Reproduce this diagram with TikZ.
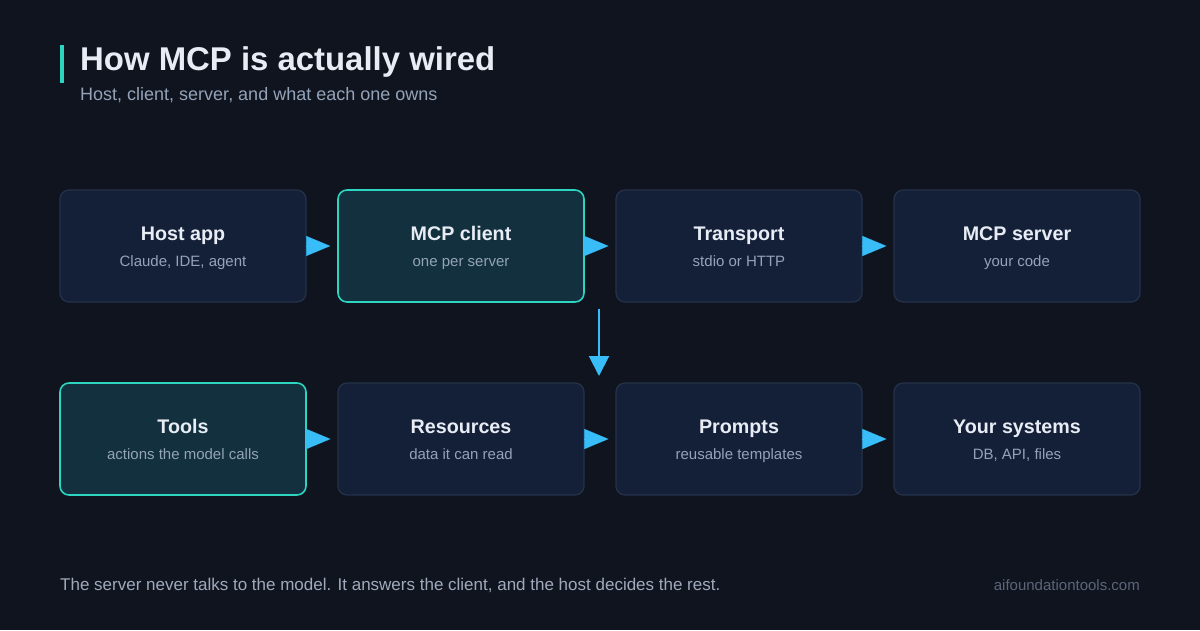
\documentclass[tikz,border=0pt]{standalone}
\usepackage{fontspec}
\setmainfont{Liberation Sans}
\usetikzlibrary{arrows.meta}
\definecolor{bg}{HTML}{0F141F}
\definecolor{boxf}{HTML}{141F38}
\definecolor{boxd}{HTML}{26324A}
\definecolor{hif}{HTML}{12303D}
\definecolor{hid}{HTML}{2DD4BF}
\definecolor{arr}{HTML}{38BDF8}
\definecolor{ttl}{HTML}{E8EDF5}
\definecolor{sub}{HTML}{94A3B8}
\definecolor{foot}{HTML}{A0AABB}
\definecolor{brand}{HTML}{5B6678}
\begin{document}
\begin{tikzpicture}[x=1pt,y=-1pt,
  box/.style={draw=boxd,fill=boxf,line width=1.2pt,rounded corners=9pt,minimum width=246pt,minimum height=112pt,inner sep=0pt},
  hi/.style={box,draw=hid,fill=hif,line width=1.6pt},
  bt/.style={text=ttl,font=\bfseries\fontsize{19.7}{22}\selectfont,anchor=base},
  bs/.style={text=sub,font=\fontsize{15}{17}\selectfont,anchor=base},
  ar/.style={arr,line width=0.1pt,-{Triangle[length=24pt,width=20pt]}},
  arv/.style={arr,line width=2pt,-{Triangle[length=20pt,width=20pt]}}]
\useasboundingbox (0,0) rectangle (1200,630);
\fill[bg] (0,0) rectangle (1200,630);
\fill[hid] (60,45) rectangle (64,83);
\node[anchor=base west,text=ttl,font=\bfseries\fontsize{32.9}{38}\selectfont,inner sep=0pt] (title) at (80,70) {How MCP is actually wired};
\node[anchor=base west,text=sub,font=\fontsize{18}{20}\selectfont,inner sep=0pt] (subt) at (80,100) {Host, client, server, and what each one owns};
\foreach \n/\x/\y/\s/\t/\u in {a/183/246/box/Host app/{Claude, IDE, agent},b/461/246/hi/MCP client/one per server,c/739/246/box/Transport/stdio or HTTP,d/1017/246/box/MCP server/your code,e/183/439/hi/Tools/actions the model calls,f/461/439/box/Resources/data it can read,g/739/439/box/Prompts/reusable templates,h/1017/439/box/Your systems/{DB, API, files}}{
  \node[\s] (\n) at (\x,\y) {};
  \node[bt] (\n t) at (\x,\y-6) {\t};
  \node[bs] (\n s) at (\x,\y+20) {\u};
}
\foreach \p/\q in {a/b,b/c,c/d,e/f,f/g,g/h}{
  \draw[ar] ([xshift=0.5pt]\p.east) -- ([xshift=-7pt]\q.west);
}
\coordinate (v1) at (599,309);
\coordinate (v2) at (599,376);
\draw[arv] (v1) -- (v2);
\node[anchor=base west,text=foot,font=\fontsize{17}{20}\selectfont,inner sep=0pt] (ft) at (60,590) {The server never talks to the model. It answers the client, and the host decides the rest.};
\node[anchor=base east,text=brand,font=\fontsize{15}{17}\selectfont,inner sep=0pt] (br) at (1140,590) {aifoundationtools.com};
\end{tikzpicture}
\end{document}
